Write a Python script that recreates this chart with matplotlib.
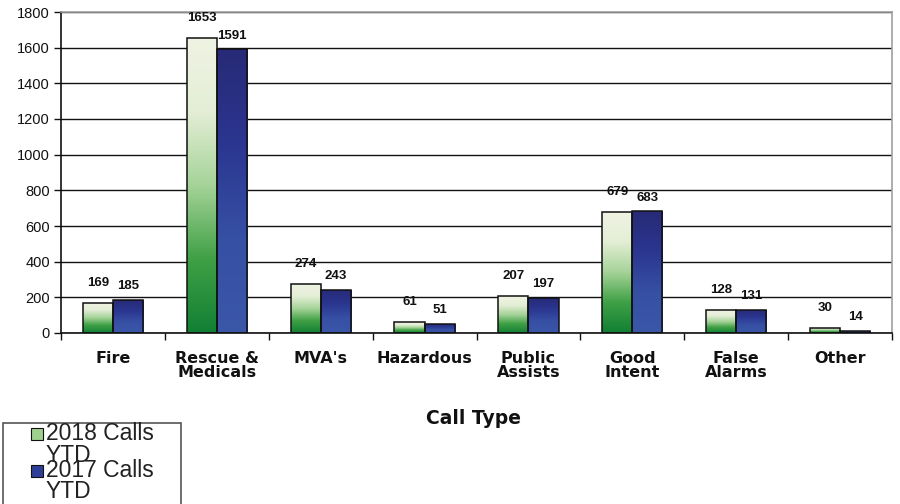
import numpy as np
import matplotlib
matplotlib.use("Agg")
import matplotlib.pyplot as plt
from matplotlib.colors import LinearSegmentedColormap
from matplotlib.patches import Rectangle

categories = ["Fire", "Rescue &\nMedicals", "MVA's", "Hazardous", "Public\nAssists",
              "Good\nIntent", "False\nAlarms", "Other"]
calls_2018 = [169, 1653, 274, 61, 207, 679, 128, 30]
calls_2017 = [185, 1591, 243, 51, 197, 683, 131, 14]
series_names = ["2018 Calls\nYTD", "2017 Calls\nYTD"]
yticks = [0, 200, 400, 600, 800, 1000, 1200, 1400, 1600, 1800]

plt.rcParams['font.family'] = ['Liberation Sans', 'DejaVu Sans']

W, H = 900, 504
fig = plt.figure(figsize=(9, 5.04), dpi=100)
ax = fig.add_axes([61/W, 1 - 333/H, (892-61)/W, (333-12)/H])

x = np.arange(len(categories))
w = 0.29

green_cmap = LinearSegmentedColormap.from_list("g", ["#118034", "#3fa045", "#a5d398", "#e4eed6", "#eff3e3"])
blue_cmap = LinearSegmentedColormap.from_list("b", ["#3b57a8", "#3650a4", "#2b3690", "#272a76"])

ax.set_xlim(-0.5, len(categories) - 0.5)
ax.set_ylim(0, 1800)

def grad_bars(xs, vals, cmap):
    bars = ax.bar(xs, vals, width=w, facecolor='none', edgecolor='#111111', linewidth=1.1, zorder=3)
    grad = np.linspace(0, 1, 256).reshape(-1, 1)
    for b in bars:
        x0, y0 = b.get_x(), b.get_y()
        im = ax.imshow(grad, cmap=cmap, aspect='auto', origin='lower',
                       extent=[x0, x0 + b.get_width(), y0, y0 + b.get_height()], zorder=2.5)
        im.set_clip_path(b)
    return bars

b1 = grad_bars(x - w/2, calls_2018, green_cmap)
b2 = grad_bars(x + w/2, calls_2017, blue_cmap)

for b, v in zip(b1, calls_2018):
    ax.annotate(str(v), (b.get_x() + b.get_width()/2, v), xytext=(0, 10), textcoords='offset points',
                ha='center', va='bottom', fontsize=9.5, fontweight='bold', color='#111111')
for b, v in zip(b2, calls_2017):
    ax.annotate(str(v), (b.get_x() + b.get_width()/2, v), xytext=(0, 5.5), textcoords='offset points',
                ha='center', va='bottom', fontsize=9.5, fontweight='bold', color='#111111')

ax.set_yticks(yticks)
ax.yaxis.grid(True, color='#111111', linewidth=1.0, zorder=0)
ax.set_axisbelow(True)
ax.tick_params(axis='y', labelsize=10.5, length=5, width=1, color='#111111', pad=3, labelcolor='#111111')

ax.set_xticks(x)
ax.set_xticklabels(categories, fontsize=11.5, fontweight='bold', color='#111111', linespacing=0.95,
                   family='DejaVu Sans')
ax.tick_params(axis='x', length=0, pad=13)
ax.set_xticks(np.arange(-0.5, len(categories)), minor=True)
ax.tick_params(axis='x', which='minor', length=5, width=1, color='#111111')

for s in ['left', 'bottom']:
    ax.spines[s].set_color('#111111')
    ax.spines[s].set_linewidth(1.2)
for s in ['top', 'right']:
    ax.spines[s].set_color('#a0a0a0')
    ax.spines[s].set_linewidth(1.2)

fig.text(473/W, 1 - 418/H, "Call Type", ha='center', va='center', fontsize=13.5,
         fontweight='bold', color='#111111', family='DejaVu Sans')

# legend (frame extends past the bottom edge, as in the reference)
fig.patches.append(Rectangle((3/W, -0.05), (181-3)/W, (1 - 423/H) + 0.05,
                             transform=fig.transFigure, facecolor='white',
                             edgecolor='#555555', linewidth=1.2, zorder=1))
legend_colors = ['#9fd08f', '#2f3f98']
legend_baselines = [440, 477]
for name, col, base in zip(series_names, legend_colors, legend_baselines):
    fig.patches.append(Rectangle((31/W, 1 - base/H), 12/W, 12/H, transform=fig.transFigure,
                                 facecolor=col, edgecolor='#111111', linewidth=0.8, zorder=2))
    for i, line in enumerate(name.split("\n")):
        fig.text(46/W, 1 - (base + 21.5 * i)/H, line, ha='left', va='baseline', fontsize=16.5,
                 color='#222222', zorder=3)

fig.savefig("out.png", dpi=100)
